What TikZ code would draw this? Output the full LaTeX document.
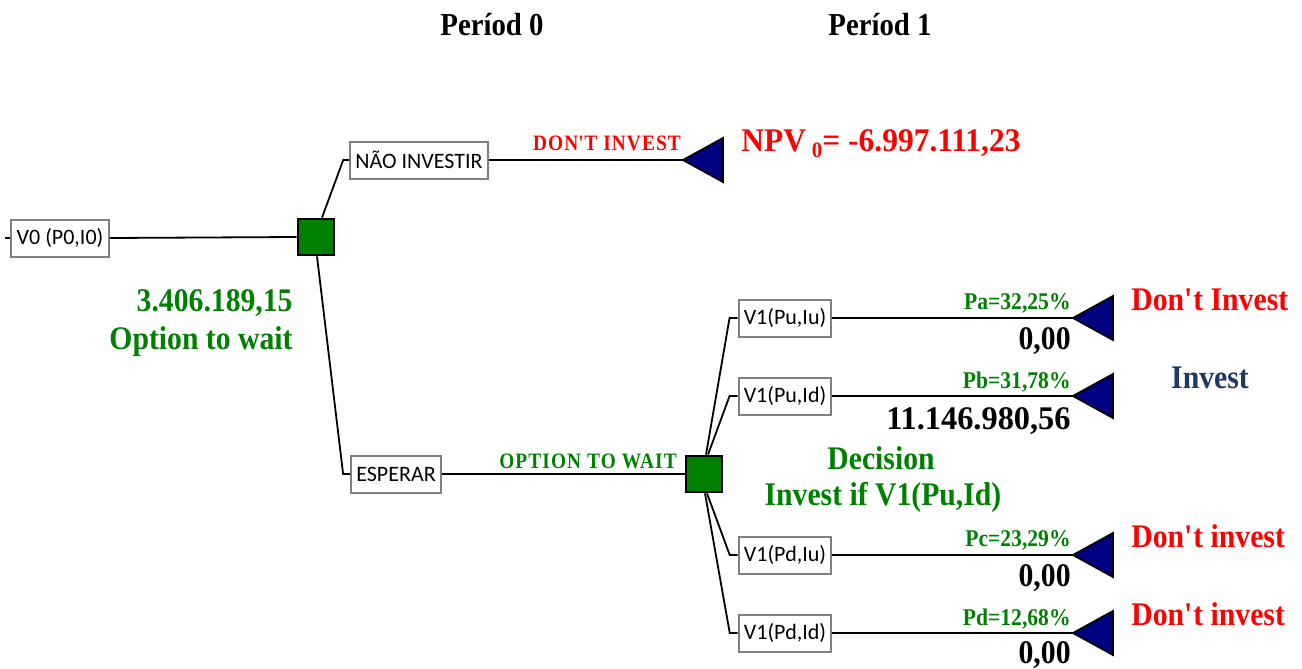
\documentclass[tikz,border=0pt]{standalone}
\usepackage{fontspec}
\setmainfont[FakeStretch=0.9]{Liberation Serif}
\newfontfamily\boxfont{Carlito}
\newfontfamily\spacedfont[LetterSpace=5,FakeStretch=0.88]{Liberation Serif}
\definecolor{optgreen}{RGB}{0,128,0}
\definecolor{endnavy}{RGB}{0,0,128}
\definecolor{investblue}{RGB}{31,56,100}
\definecolor{boxgray}{RGB}{128,128,128}
\definecolor{textred}{RGB}{255,0,0}

\begin{document}
\begin{tikzpicture}[x=0.5pt,y=-0.5pt,
  state/.style={draw=boxgray, line width=1pt, fill=white,
    font=\boxfont\fontsize{11}{12}\selectfont,
    minimum height=18.5pt, inner xsep=2.6pt, inner ysep=0pt},
  decision/.style={draw=black, line width=1.4pt, fill=optgreen,
    minimum size=18pt, inner sep=0pt},
  link/.style={draw=black, line width=0.9pt},
  endtri/.style={fill=endnavy, draw=black, line width=0.9pt, line join=miter},
  lbl/.style={inner sep=0pt},
  head/.style={lbl, font=\bfseries\fontsize{16}{18}\selectfont},
  big/.style={lbl, font=\bfseries\fontsize{16.5}{19}\selectfont},
  prob/.style={lbl, text=optgreen, font=\bfseries\fontsize{12}{14}\selectfont},
  spaced/.style={lbl, font=\spacedfont\bfseries\fontsize{11}{13}\selectfont},
]
% canvas
\useasboundingbox[fill=white] (0,0) rectangle (1302,669);

% period headings
\node[head, anchor=base] (p0) at (492,35) {Períod 0};
\node[head, anchor=base] (p1) at (880,35) {Períod 1};

% root
\coordinate (stub) at (5,238);
\node[state] (v0) at (60,238) {V0 (P0,I0)};
\node[decision] (sq0) at (316,237) {};
\draw[link] (stub) -- (v0.west);
\draw[link] (v0.east) -- (sq0.west);

% first decision branches
\node[state] (nao) at (419,160) {NÃO INVESTIR};
\node[state] (esp) at (396,474) {ESPERAR};
\draw[link] ([xshift=3pt]sq0.north) -- ([xshift=-3pt]nao.west) -- (nao.west);
\draw[link] ([xshift=0.5pt]sq0.south) -- ([xshift=-3.5pt]esp.west) -- (esp.west);

% don't invest terminal
\coordinate (tipN) at (683,160);
\draw[link] (nao.east) -- (tipN);
\filldraw[endtri] (tipN) -- ++(40,-22) -- ++(0,44) -- cycle;
\node[spaced, text=textred, anchor=base] (lN) at (607,150) {DON\textquotesingle T INVEST};
\node[big, text=textred, anchor=base west] (npv) at (741,151)
  {\scalebox{1.06}[1]{NPV\,\raisebox{-0.45ex}{\fontsize{11}{11}\selectfont 0}= -6.997.111,23}};

\node[big, text=optgreen, anchor=base east] (ov) at (293,311) {3.406.189,15};
\node[big, text=optgreen, anchor=base east] (ow) at (293,349) {Option to wait};

% wait branch
\node[decision] (sq1) at (704,474) {};
\draw[link] (esp.east) -- (sq1.west);
\node[spaced, text=optgreen, anchor=base] (lW) at (588,468) {OPTION TO WAIT};

% period 1 states
\node[state] (sa) at (785,318) {V1(Pu,Iu)};
\node[state] (sb) at (785,396) {V1(Pu,Id)};
\node[state] (sc) at (785,555) {V1(Pd,Iu)};
\node[state] (sd) at (785,633) {V1(Pd,Id)};
\draw[link] ([xshift=1pt]sq1.north) -- ([xshift=-4pt]sa.west) -- (sa.west);
\draw[link] ([xshift=2pt]sq1.north) -- ([xshift=-4pt]sb.west) -- (sb.west);
\draw[link] ([xshift=1.5pt]sq1.south) -- ([xshift=-4pt]sc.west) -- (sc.west);
\draw[link] ([xshift=0.5pt]sq1.south) -- ([xshift=-4pt]sd.west) -- (sd.west);

% terminals of period 1
\foreach \s/\y in {a/318, b/396, c/555, d/633}{
  \coordinate (tip\s) at (1073,\y);
  \draw[link] (s\s.east) -- (tip\s);
  \filldraw[endtri] (tip\s) -- ++(40,-22) -- ++(0,44) -- cycle;
}

% probabilities and payoffs
\node[prob, anchor=base east] (pa) at (1071,309) {Pa=32,25\%};
\node[big, anchor=base east] (va) at (1071,349) {0,00};
\node[prob, anchor=base east] (pb) at (1071,388) {Pb=31,78\%};
\node[big, anchor=base east] (vb) at (1071,429) {\scalebox{1.09}[1]{11.146.980,56}};
\node[prob, anchor=base east] (pc) at (1071,546) {Pc=23,29\%};
\node[big, anchor=base east] (vc) at (1071,586) {0,00};
\node[prob, anchor=base east] (pd) at (1071,625) {Pd=12,68\%};
\node[big, anchor=base east] (vd) at (1071,663) {0,00};

% decisions at the terminals
\node[big, text=textred, anchor=base west] (da) at (1131,310) {Don\textquotesingle t Invest};
\node[big, text=investblue, anchor=base] (db) at (1210,388) {Invest};
\node[big, text=textred, anchor=base west] (dc) at (1131,547) {Don\textquotesingle t invest};
\node[big, text=textred, anchor=base west] (dd) at (1131,625) {Don\textquotesingle t invest};

% decision rule
\node[big, text=optgreen, anchor=base] (rule1) at (881,469) {Decision};
\node[big, text=optgreen, anchor=base] (rule2) at (883,505) {Invest if V1(Pu,Id)};
\end{tikzpicture}
\end{document}
